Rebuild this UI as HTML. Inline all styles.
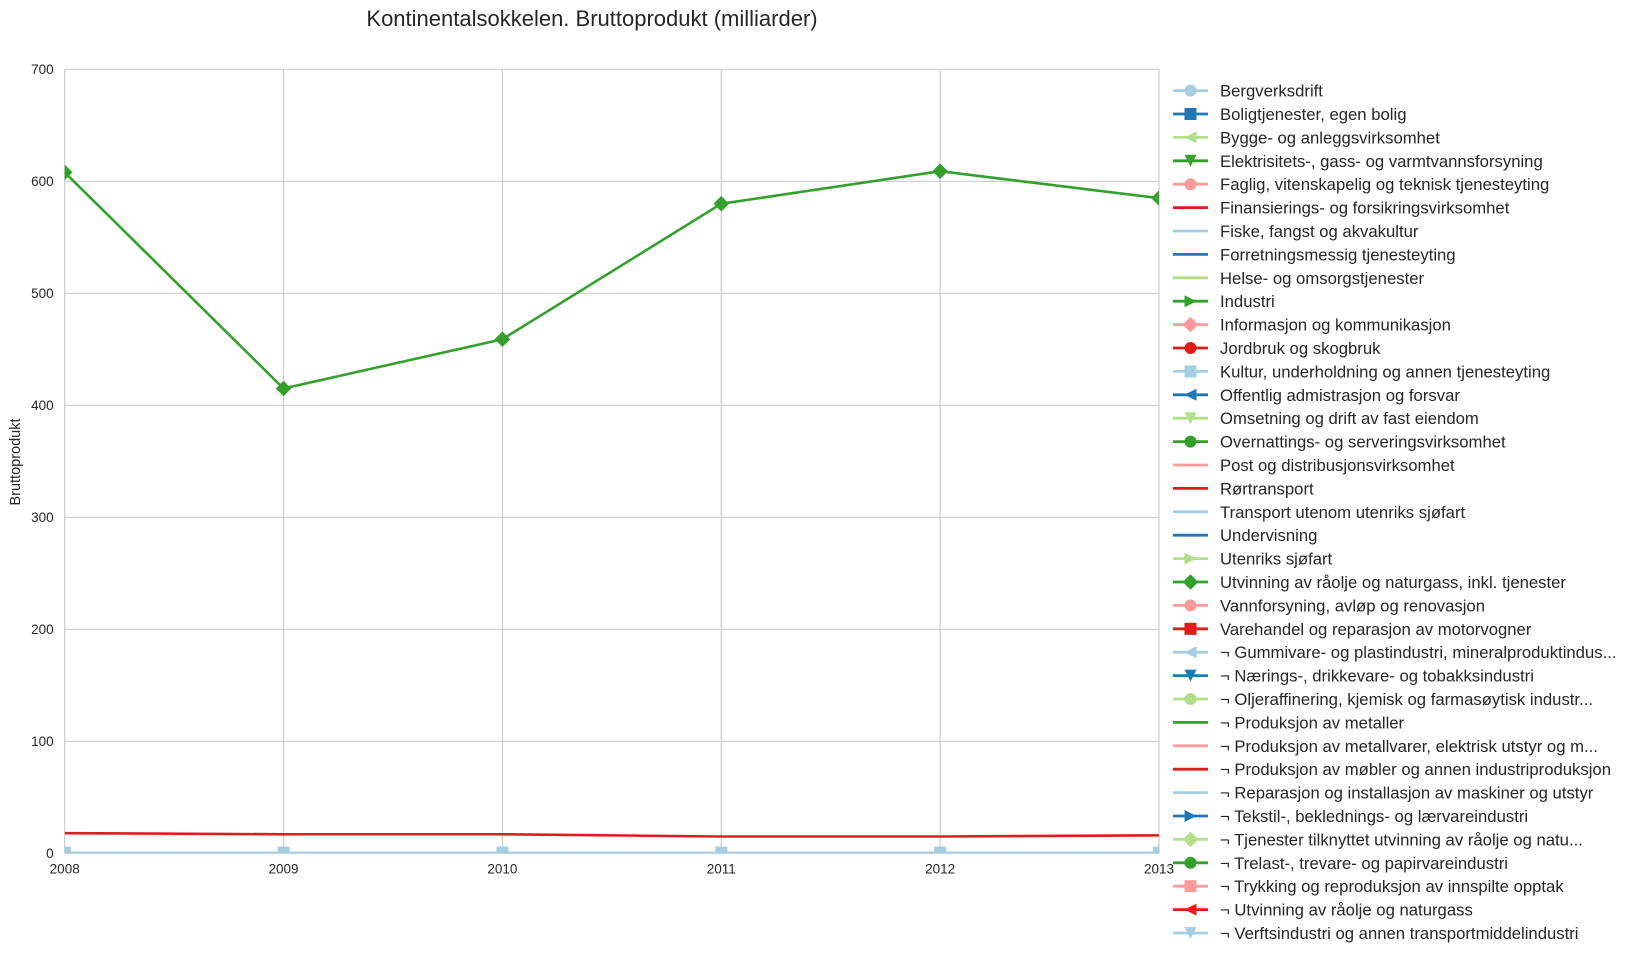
<!DOCTYPE html>
<html><head><meta charset="utf-8">
<style>
body{margin:0;background:#fff;}
svg{display:block;font-family:"Liberation Sans",Arial,sans-serif;}
</style></head>
<body>
<svg id="chart" width="1633" height="958" viewBox="0 0 1633 958" xmlns="http://www.w3.org/2000/svg">
<defs><clipPath id="clip"><rect x="64.7" y="69.3" width="1094.3" height="784"/></clipPath></defs>
<text x="592" y="26" text-anchor="middle" font-size="22" fill="#262626">Kontinentalsokkelen. Bruttoprodukt (milliarder)</text>
<text transform="translate(20,462) rotate(-90)" text-anchor="middle" font-size="14.5" fill="#262626">Bruttoprodukt</text>
<g id="grid"></g>
<g id="series" clip-path="url(#clip)"></g>
<g id="legend"></g>
</svg>
<script>
const years = [2008, 2009, 2010, 2011, 2012, 2013];
const yTicks = [0, 100, 200, 300, 400, 500, 600, 700];
const utvinningValues = [608, 415, 459, 580, 609, 585];
const rortransportValues = [18, 17, 17, 15, 15, 16];
const zeroValues = [0.5, 0.5, 0.5, 0.5, 0.5, 0.5];
const legendLabels = ["Bergverksdrift","Boligtjenester, egen bolig","Bygge- og anleggsvirksomhet","Elektrisitets-, gass- og varmtvannsforsyning","Faglig, vitenskapelig og teknisk tjenesteyting","Finansierings- og forsikringsvirksomhet","Fiske, fangst og akvakultur","Forretningsmessig tjenesteyting","Helse- og omsorgstjenester","Industri","Informasjon og kommunikasjon","Jordbruk og skogbruk","Kultur, underholdning og annen tjenesteyting","Offentlig admistrasjon og forsvar","Omsetning og drift av fast eiendom","Overnattings- og serveringsvirksomhet","Post og distribusjonsvirksomhet","Rørtransport","Transport utenom utenriks sjøfart","Undervisning","Utenriks sjøfart","Utvinning av råolje og naturgass, inkl. tjenester","Vannforsyning, avløp og renovasjon","Varehandel og reparasjon av motorvogner","¬ Gummivare- og plastindustri, mineralproduktindus...","¬ Nærings-, drikkevare- og tobakksindustri","¬ Oljeraffinering, kjemisk og farmasøytisk industr...","¬ Produksjon av metaller","¬ Produksjon av metallvarer, elektrisk utstyr og m...","¬ Produksjon av møbler og annen industriproduksjon","¬ Reparasjon og installasjon av maskiner og utstyr","¬ Tekstil-, beklednings- og lærvareindustri","¬ Tjenester tilknyttet utvinning av råolje og natu...","¬ Trelast-, trevare- og papirvareindustri","¬ Trykking og reproduksjon av innspilte opptak","¬ Utvinning av råolje og naturgass","¬ Verftsindustri og annen transportmiddelindustri"];
const palette = ["#a6cee3","#1f78b4","#b2df8a","#33a02c","#fb9a99","#e31a1c"];
const markers = ["o","s","<","v","o","","","","",">","D","o","s","<","v","o","","","","",">","D","o","s","<","v","o","","","","",">","D","o","s","<","v"];

const NS = "http://www.w3.org/2000/svg";
const L = 64.7, R = 1159, T = 69.3, B = 853.3;
const xs = y => L + (y - years[0]) / (years[years.length-1] - years[0]) * (R - L);
const ys = v => B - v / 700 * (B - T);
function mk(tag, attrs, parent){const e=document.createElementNS(NS,tag);for(const k in attrs)e.setAttribute(k,attrs[k]);parent.appendChild(e);return e;}

const grid = document.getElementById('grid');
yTicks.forEach(t=>{
  const ln = mk('line',{x1:L,x2:R,y1:ys(t),y2:ys(t),stroke:'#cccccc','stroke-width':1.2},grid);
  
  
  const tx = mk('text',{x:L-11,y:ys(t)+4.5,'text-anchor':'end','font-size':13.5,fill:'#262626'},grid);
  tx.textContent = t;
  
  
});
years.forEach(y=>{
  const ln = mk('line',{x1:xs(y),x2:xs(y),y1:T,y2:B,stroke:'#cccccc','stroke-width':1.2},grid);
  
  
  const tx = mk('text',{x:xs(y),y:B+20,'text-anchor':'middle','font-size':13.5,fill:'#262626'},grid);
  tx.textContent = y;
  
  
});

function marker(type, cx, cy, r, color, parent){
  let e;
  if(type==='o') e = mk('circle',{cx:cx,cy:cy,r:r,fill:color},parent);
  else if(type==='s') e = mk('rect',{x:cx-r,y:cy-r,width:2*r,height:2*r,fill:color},parent);
  else if(type==='D') e = mk('polygon',{points:`${cx},${cy-r*1.3} ${cx+r*1.3},${cy} ${cx},${cy+r*1.3} ${cx-r*1.3},${cy}`,fill:color},parent);
  else if(type==='v') e = mk('polygon',{points:`${cx-r},${cy-r} ${cx+r},${cy-r} ${cx},${cy+r}`,fill:color},parent);
  else if(type==='<') e = mk('polygon',{points:`${cx+r},${cy-r} ${cx+r},${cy+r} ${cx-r},${cy}`,fill:color},parent);
  else if(type==='>') e = mk('polygon',{points:`${cx-r},${cy-r} ${cx-r},${cy+r} ${cx+r},${cy}`,fill:color},parent);
  return e;
}

const sg = document.getElementById('series');
function drawSeries(vals, color, mtype, name){
  const g = mk('g',{},sg);
  
  
  mk('polyline',{points:vals.map((v,i)=>xs(years[i])+','+ys(v)).join(' '),fill:'none',stroke:color,'stroke-width':2.6},g);
  if(mtype) vals.forEach((v,i)=>{
    const m = marker(mtype, xs(years[i]), ys(v), 6, color, g);
    
    
  });
}
[2,12,24,36,0].forEach(i=>drawSeries(zeroValues, palette[i%6], markers[i], 'zero-series'));
drawSeries(rortransportValues, "#e31a1c", "", 'line-rortransport');
drawSeries(utvinningValues, "#33a02c", "D", 'line-utvinning-raolje');

const lg = document.getElementById('legend');
legendLabels.forEach((lab,i)=>{
  const y = 90.6 + i*23.4;
  const c = palette[i%6];
  const g = mk('g',{},lg);
  
  
  mk('line',{x1:1173,x2:1208,y1:y,y2:y,stroke:c,'stroke-width':2.8},g);
  if(markers[i]) marker(markers[i],1190.5,y,6,c,g);
  const tx = mk('text',{x:1220,y:y+6,'font-size':16.7,fill:'#262626'},g);
  tx.textContent = lab;
});
</script>
</body></html>
